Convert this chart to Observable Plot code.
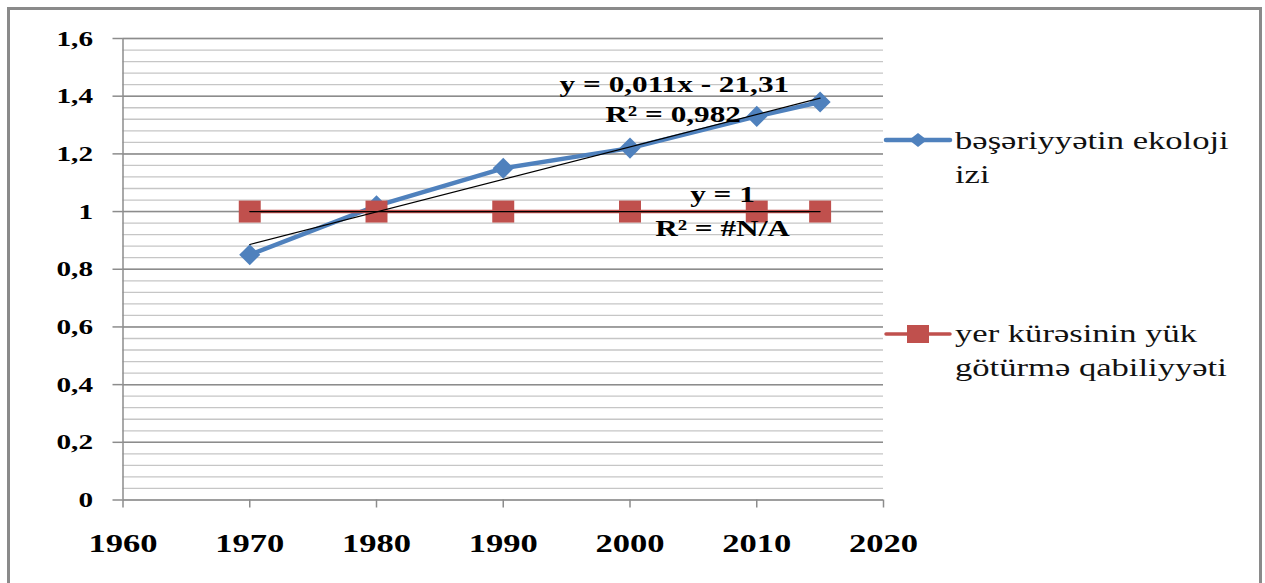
<!DOCTYPE html>
<html>
<head>
<meta charset="utf-8">
<script src="https://cdn.jsdelivr.net/npm/d3@7"></script>
<script src="https://cdn.jsdelivr.net/npm/@observablehq/plot@0.6"></script>
<style>
  html, body { margin: 0; padding: 0; background: #fff; }
  #wrap { position: relative; width: 1265px; height: 583px; overflow: hidden; background: #fff; }
  #frame { position: absolute; left: 7px; top: 7px; width: 1249px; height: 620px; border: 3px solid #8a8a8a; border-bottom: none; box-sizing: content-box; }
  #chart { position: absolute; left: 0; top: 0; }
  .leg { position: absolute; font-family: "Liberation Serif", "Times New Roman", serif; font-size: 26px; line-height: 34px; color: #111; }
  .legtxt { position: absolute; left: 69px; top: 0; white-space: nowrap; transform: scaleX(1.33); transform-origin: left top; }
</style>
</head>
<body>
<div id="wrap">
  <div id="frame"></div>
  <div id="chart"></div>
</div>
<script>
// ---- data ----
const years = [1970, 1980, 1990, 2000, 2010, 2015];
const footprint = [0.85, 1.02, 1.15, 1.22, 1.33, 1.38];   // bəşəriyyətin ekoloji izi
const capacity = [1, 1, 1, 1, 1, 1];                      // yer kürəsinin yük götürmə qabiliyyəti
const seriesNames = ["bəşəriyyətin ekoloji izi", "yer kürəsinin yük götürmə qabiliyyəti"];
const legendLines = [["bəşəriyyətin ekoloji", "izi"], ["yer kürəsinin yük", "götürmə qabiliyyəti"]];
const xTicks = [1960, 1970, 1980, 1990, 2000, 2010, 2020];
const yTicks = [0, 0.2, 0.4, 0.6, 0.8, 1, 1.2, 1.4, 1.6];
const annoText = ["y = 0,011x - 21,31", "R² = 0,982", "y = 1", "R² = #N/A"];
const annoX = [2003.5, 2003.4, 2007.3, 2007.3];
const annoY = [1.414, 1.31, 1.033, 0.917];

const blue = "#4F81BD", red = "#C0504D";
const S = 1.33; // horizontal text stretch seen in the reference

const dataA = years.map((x, i) => ({year: x, value: footprint[i]}));
const dataB = years.map((x, i) => ({year: x, value: capacity[i]}));
const annos = annoText.map((t, i) => ({text: t, x: annoX[i], y: annoY[i]}));
const minorY = d3.range(0, 1.6001, 0.04).map(v => +v.toFixed(2));
const fmtY = d => String(+d.toFixed(1)).replace(".", ",");
const serif = "Liberation Serif";

const chart = Plot.plot({
  width: 1265,
  height: 583,
  marginLeft: 122.5,
  marginRight: 382,
  marginTop: 38,
  marginBottom: 83.5,
  style: {background: "transparent", fontFamily: serif, color: "#000", overflow: "visible"},
  x: {domain: [1960, 2020], label: null},
  y: {domain: [0, 1.6], label: null},
  marks: [
    Plot.ruleY(minorY, {stroke: "#c6c6c6", strokeWidth: 1.3}),
    Plot.ruleY(yTicks, {stroke: "#8c8c8c", strokeWidth: 1.5}),
    Plot.ruleX([1960], {stroke: "#8c8c8c", strokeWidth: 1.5}),
    Plot.axisY({ticks: yTicks, tickSize: 10, tickPadding: 20, stroke: "#8c8c8c", strokeWidth: 1.5,
      fill: "#000", tickFormat: fmtY, fontSize: 22, fontWeight: "bold", fontFamily: serif, label: null}),
    Plot.axisX({ticks: xTicks, tickSize: 8, tickPadding: 25.5, stroke: "#8c8c8c", strokeWidth: 1.5,
      fill: "#000", tickFormat: d => String(d), fontSize: 26, fontWeight: "bold", fontFamily: serif, label: null}),
    Plot.line(dataA, {x: "year", y: "value", stroke: blue, strokeWidth: 4.5}),
    Plot.dot(dataA, {x: "year", y: "value", symbol: "diamond2", r: 9.5, fill: blue, stroke: "none"}),
    Plot.line(dataB, {x: "year", y: "value", stroke: red, strokeWidth: 3.5}),
    Plot.dot(dataB, {x: "year", y: "value", symbol: "square", r: 12.4, fill: red, stroke: "none"}),
    Plot.linearRegressionY(dataA, {x: "year", y: "value", ci: 0, stroke: "#000", strokeWidth: 1.2}),
    Plot.linearRegressionY(dataB, {x: "year", y: "value", ci: 0, stroke: "#000", strokeWidth: 1.2}),
    Plot.text(annos, {x: "x", y: "y", text: "text", lineAnchor: "bottom", textAnchor: "middle",
      fontSize: 23.5, fontWeight: "bold", fontFamily: serif, fill: "#000"})
  ]
});
document.getElementById("chart").appendChild(chart);

// stretch all texts horizontally around their anchor
const texts = Array.from(chart.querySelectorAll("text"));
texts.forEach(t => {
  const g = document.createElementNS("http://www.w3.org/2000/svg", "g");
  t.parentNode.insertBefore(g, t);
  g.appendChild(t);
});
texts.forEach(t => {
  const g = t.parentNode;
  const b = g.getBBox();
  const a = getComputedStyle(t).textAnchor;
  const ax = a === "end" ? b.x + b.width : a === "middle" ? b.x + b.width / 2 : b.x;
  g.setAttribute("transform", `translate(${ax},0) scale(${S},1) translate(${-ax},0)`);
});

// ---- legend ----
const wrap = document.getElementById("wrap");
const legendItems = [
  {color: blue, sym: "diamond", top: 124, lineY: 16, sw: 4.5},
  {color: red, sym: "square", top: 317, lineY: 17, sw: 3.5}
];
legendItems.forEach((it, i) => {
  const div = document.createElement("div");
  div.className = "leg";
  div.style.left = "886px";
  div.style.top = it.top + "px";
  div.title = seriesNames[i];
  const mk = it.sym === "diamond"
    ? `<polygon points="32,${it.lineY - 7} 41,${it.lineY} 32,${it.lineY + 7} 23,${it.lineY}" fill="${it.color}"/>`
    : `<rect x="21" y="${it.lineY - 9}" width="22" height="18" fill="${it.color}"/>`;
  div.innerHTML = `<svg width="66" height="34" style="position:absolute;left:0;top:0;overflow:visible">
      <line x1="0" x2="64" y1="${it.lineY}" y2="${it.lineY}" stroke="${it.color}" stroke-width="${it.sw}" stroke-linecap="round"/>${mk}</svg>
    <div class="legtxt">${legendLines[i].join("<br>")}</div>`;
  wrap.appendChild(div);
});
</script>
</body>
</html>
